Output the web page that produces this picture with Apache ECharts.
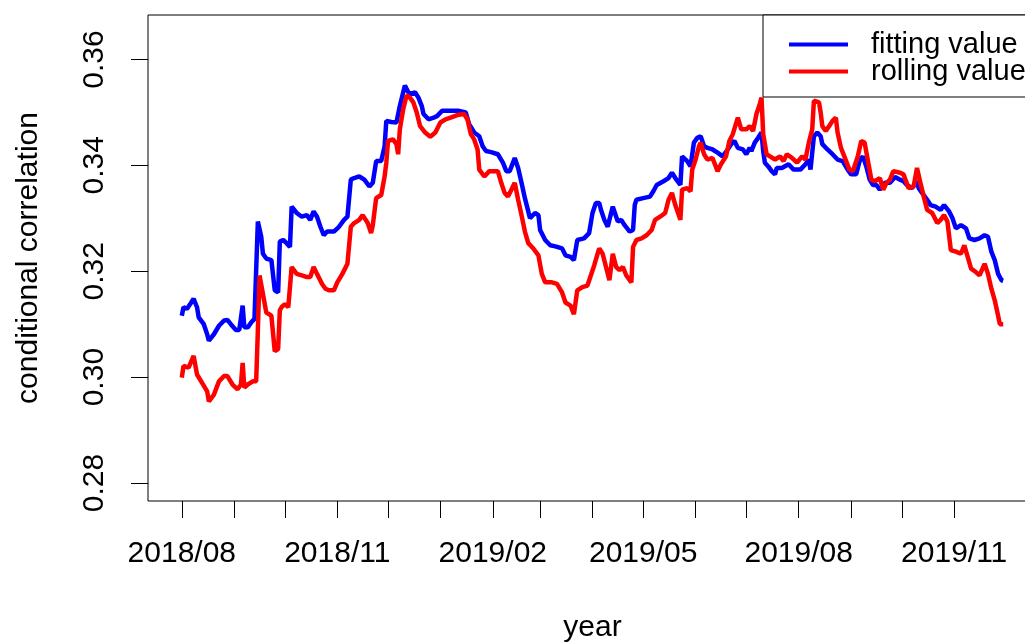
<!DOCTYPE html>
<html><head><meta charset="utf-8">
<script src="https://cdn.jsdelivr.net/npm/echarts@6/dist/echarts.min.js"></script>
<style>html,body{margin:0;padding:0;background:#fff}#chart{width:1025px;height:644px}</style>
</head><body><div id="chart"></div>
<script>
const fittingDates = [
'2018-08-01','2018-08-02','2018-08-04','2018-08-06','2018-08-08','2018-08-10','2018-08-11','2018-08-14','2018-08-16','2018-08-17',
'2018-08-20','2018-08-23','2018-08-26','2018-08-28','2018-08-30','2018-09-02','2018-09-04','2018-09-06','2018-09-07','2018-09-09',
'2018-09-11','2018-09-13','2018-09-14','2018-09-15','2018-09-17','2018-09-18','2018-09-20','2018-09-23','2018-09-25','2018-09-27',
'2018-09-28','2018-09-30','2018-10-02','2018-10-04','2018-10-05','2018-10-08','2018-10-11','2018-10-14','2018-10-16','2018-10-18',
'2018-10-20','2018-10-22','2018-10-24','2018-10-26','2018-10-30','2018-11-02','2018-11-05','2018-11-07','2018-11-09','2018-11-11',
'2018-11-14','2018-11-17','2018-11-20','2018-11-22','2018-11-24','2018-11-27','2018-11-29','2018-11-30','2018-12-03','2018-12-06',
'2018-12-08','2018-12-10','2018-12-11','2018-12-13','2018-12-15','2018-12-17','2018-12-19','2018-12-21','2018-12-22','2018-12-25',
'2018-12-28','2018-12-30','2019-01-02','2019-01-07','2019-01-12','2019-01-16','2019-01-18','2019-01-21','2019-01-24','2019-01-26',
'2019-01-28','2019-01-31','2019-02-04','2019-02-07','2019-02-09','2019-02-11','2019-02-14','2019-02-16','2019-02-18','2019-02-20',
'2019-02-22','2019-02-23','2019-02-26','2019-02-28','2019-03-01','2019-03-04','2019-03-07','2019-03-10','2019-03-14','2019-03-16',
'2019-03-19','2019-03-21','2019-03-23','2019-03-27','2019-03-30','2019-04-01','2019-04-03','2019-04-05','2019-04-06','2019-04-08',
'2019-04-10','2019-04-11','2019-04-13','2019-04-15','2019-04-16','2019-04-18','2019-04-20','2019-04-23','2019-04-25','2019-04-26',
'2019-04-27','2019-05-01','2019-05-05','2019-05-07','2019-05-09','2019-05-13','2019-05-16','2019-05-18','2019-05-20','2019-05-23',
'2019-05-24','2019-05-27','2019-05-29','2019-05-31','2019-06-02','2019-06-04','2019-06-06','2019-06-08','2019-06-11','2019-06-14',
'2019-06-17','2019-06-20','2019-06-22','2019-06-24','2019-06-26','2019-06-29','2019-07-01','2019-07-03','2019-07-04','2019-07-06',
'2019-07-08','2019-07-10','2019-07-11','2019-07-12','2019-07-14','2019-07-16','2019-07-18','2019-07-19','2019-07-22','2019-07-26',
'2019-07-29','2019-08-02','2019-08-05','2019-08-07','2019-08-08','2019-08-10','2019-08-12','2019-08-14','2019-08-15','2019-08-18',
'2019-08-21','2019-08-24','2019-08-27','2019-08-30','2019-09-01','2019-09-04','2019-09-06','2019-09-08','2019-09-10','2019-09-12',
'2019-09-14','2019-09-16','2019-09-18','2019-09-21','2019-09-24','2019-09-27','2019-09-30','2019-10-02','2019-10-04','2019-10-07',
'2019-10-10','2019-10-11','2019-10-13','2019-10-16','2019-10-18','2019-10-21','2019-10-24','2019-10-26','2019-10-29','2019-10-31',
'2019-11-02','2019-11-05','2019-11-08','2019-11-10','2019-11-13','2019-11-16','2019-11-19','2019-11-21','2019-11-23','2019-11-25',
'2019-11-27','2019-11-29','2019-11-30'];
const fittingValues = [
0.3116,0.3132,0.3129,0.3138,0.3148,0.3132,0.3113,0.3100,0.3081,0.3069,
0.3081,0.3097,0.3107,0.3108,0.3100,0.3089,0.3089,0.3135,0.3094,0.3094,
0.3103,0.3110,0.3202,0.3294,0.3265,0.3233,0.3224,0.3221,0.3164,0.3160,
0.3256,0.3259,0.3253,0.3246,0.3322,0.3310,0.3303,0.3306,0.3297,0.3313,
0.3303,0.3284,0.3268,0.3275,0.3275,0.3284,0.3297,0.3303,0.3373,0.3376,
0.3379,0.3373,0.3360,0.3367,0.3408,0.3408,0.3436,0.3484,0.3482,0.3481,
0.3512,0.3538,0.3551,0.3538,0.3535,0.3538,0.3528,0.3512,0.3497,0.3487,
0.3490,0.3493,0.3503,0.3503,0.3503,0.3500,0.3478,0.3462,0.3455,0.3436,
0.3427,0.3425,0.3421,0.3405,0.3389,0.3389,0.3414,0.3395,0.3367,0.3338,
0.3313,0.3300,0.3310,0.3306,0.3278,0.3259,0.3249,0.3247,0.3243,0.3230,
0.3227,0.3221,0.3259,0.3262,0.3272,0.3310,0.3329,0.3329,0.3316,0.3297,
0.3284,0.3297,0.3322,0.3303,0.3294,0.3297,0.3287,0.3275,0.3278,0.3325,
0.3335,0.3338,0.3341,0.3351,0.3363,0.3370,0.3376,0.3386,0.3376,0.3363,
0.3417,0.3408,0.3398,0.3443,0.3452,0.3455,0.3436,0.3433,0.3430,0.3424,
0.3417,0.3430,0.3440,0.3446,0.3433,0.3430,0.3421,0.3433,0.3427,0.3443,
0.3452,0.3462,0.3427,0.3405,0.3398,0.3389,0.3383,0.3395,0.3395,0.3402,
0.3392,0.3392,0.3402,0.3411,0.3392,0.3455,0.3462,0.3455,0.3440,0.3430,
0.3421,0.3411,0.3408,0.3392,0.3383,0.3383,0.3408,0.3417,0.3398,0.3373,
0.3363,0.3363,0.3354,0.3367,0.3367,0.3378,0.3373,0.3370,0.3363,0.3357,
0.3370,0.3357,0.3348,0.3335,0.3325,0.3322,0.3316,0.3325,0.3313,0.3300,
0.3281,0.3287,0.3281,0.3262,0.3259,0.3262,0.3268,0.3265,0.3237,0.3221,
0.3195,0.3183,0.3182];
const rollingDates = [
'2018-08-01','2018-08-02','2018-08-05','2018-08-08','2018-08-10','2018-08-13','2018-08-16','2018-08-17','2018-08-20','2018-08-23',
'2018-08-26','2018-08-28','2018-08-31','2018-09-03','2018-09-05','2018-09-06','2018-09-07','2018-09-09','2018-09-12','2018-09-14',
'2018-09-15','2018-09-16','2018-09-18','2018-09-20','2018-09-23','2018-09-25','2018-09-27','2018-09-28','2018-09-29','2018-10-01',
'2018-10-03','2018-10-05','2018-10-08','2018-10-11','2018-10-14','2018-10-16','2018-10-18','2018-10-20','2018-10-23','2018-10-25',
'2018-10-27','2018-10-30','2018-11-01','2018-11-04','2018-11-07','2018-11-09','2018-11-11','2018-11-14','2018-11-16','2018-11-19',
'2018-11-21','2018-11-22','2018-11-24','2018-11-27','2018-11-29','2018-11-30','2018-12-01','2018-12-04','2018-12-06','2018-12-07',
'2018-12-08','2018-12-10','2018-12-12','2018-12-14','2018-12-16','2018-12-18','2018-12-20','2018-12-23','2018-12-26','2018-12-29',
'2019-01-01','2019-01-04','2019-01-07','2019-01-11','2019-01-15','2019-01-17','2019-01-19','2019-01-21','2019-01-23','2019-01-24',
'2019-01-27','2019-01-30','2019-02-04','2019-02-06','2019-02-08','2019-02-10','2019-02-12','2019-02-14','2019-02-16','2019-02-18',
'2019-02-20','2019-02-22','2019-02-25','2019-02-28','2019-03-02','2019-03-04','2019-03-08','2019-03-11','2019-03-14','2019-03-16',
'2019-03-19','2019-03-21','2019-03-23','2019-03-26','2019-03-29','2019-03-31','2019-04-02','2019-04-04','2019-04-05','2019-04-07',
'2019-04-09','2019-04-11','2019-04-13','2019-04-15','2019-04-17','2019-04-19','2019-04-21','2019-04-24','2019-04-25','2019-04-27',
'2019-04-30','2019-05-03','2019-05-06','2019-05-08','2019-05-11','2019-05-14','2019-05-16','2019-05-18','2019-05-20','2019-05-23',
'2019-05-24','2019-05-27','2019-05-29','2019-05-30','2019-06-01','2019-06-03','2019-06-04','2019-06-06','2019-06-08','2019-06-11',
'2019-06-14','2019-06-16','2019-06-19','2019-06-21','2019-06-23','2019-06-26','2019-06-28','2019-07-01','2019-07-03','2019-07-05',
'2019-07-07','2019-07-09','2019-07-10','2019-07-11','2019-07-13','2019-07-15','2019-07-18','2019-07-21','2019-07-23','2019-07-25',
'2019-07-28','2019-07-31','2019-08-03','2019-08-05','2019-08-07','2019-08-09','2019-08-10','2019-08-13','2019-08-14','2019-08-15',
'2019-08-17','2019-08-19','2019-08-21','2019-08-23','2019-08-24','2019-08-26','2019-08-28','2019-08-31','2019-09-02','2019-09-05',
'2019-09-07','2019-09-09','2019-09-11','2019-09-13','2019-09-15','2019-09-18','2019-09-20','2019-09-22','2019-09-24','2019-09-26',
'2019-09-30','2019-10-02','2019-10-05','2019-10-08','2019-10-10','2019-10-12','2019-10-14','2019-10-16','2019-10-19','2019-10-22',
'2019-10-24','2019-10-26','2019-10-28','2019-10-30','2019-11-02','2019-11-05','2019-11-07','2019-11-09','2019-11-11','2019-11-14',
'2019-11-16','2019-11-19','2019-11-21','2019-11-23','2019-11-25','2019-11-27','2019-11-28','2019-11-30'];
const rollingValues = [
0.2999,0.3021,0.3018,0.3040,0.3005,0.2989,0.2973,0.2954,0.2967,0.2992,
0.3002,0.3002,0.2986,0.2977,0.2986,0.3027,0.2980,0.2986,0.2992,0.2992,
0.3088,0.3192,0.3157,0.3122,0.3116,0.3049,0.3053,0.3126,0.3132,0.3138,
0.3132,0.3208,0.3195,0.3192,0.3189,0.3189,0.3208,0.3195,0.3176,0.3167,
0.3164,0.3164,0.3179,0.3195,0.3214,0.3284,0.3291,0.3297,0.3306,0.3291,
0.3272,0.3287,0.3338,0.3344,0.3379,0.3405,0.3446,0.3449,0.3440,0.3421,
0.3468,0.3506,0.3532,0.3528,0.3519,0.3500,0.3474,0.3462,0.3454,0.3462,
0.3481,0.3487,0.3490,0.3495,0.3497,0.3487,0.3459,0.3449,0.3430,0.3392,
0.3379,0.3389,0.3389,0.3367,0.3348,0.3341,0.3354,0.3367,0.3335,0.3306,
0.3275,0.3253,0.3243,0.3230,0.3195,0.3179,0.3179,0.3176,0.3160,0.3141,
0.3135,0.3119,0.3164,0.3170,0.3173,0.3192,0.3211,0.3233,0.3243,0.3233,
0.3208,0.3183,0.3233,0.3208,0.3202,0.3208,0.3192,0.3179,0.3246,0.3259,
0.3262,0.3268,0.3278,0.3297,0.3303,0.3310,0.3335,0.3348,0.3325,0.3297,
0.3354,0.3357,0.3351,0.3392,0.3411,0.3436,0.3443,0.3421,0.3411,0.3414,
0.3389,0.3402,0.3417,0.3446,0.3459,0.3490,0.3468,0.3468,0.3474,0.3465,
0.3497,0.3516,0.3528,0.3459,0.3421,0.3417,0.3411,0.3417,0.3408,0.3421,
0.3414,0.3405,0.3417,0.3411,0.3443,0.3468,0.3522,0.3519,0.3500,0.3474,
0.3465,0.3474,0.3484,0.3490,0.3462,0.3433,0.3417,0.3392,0.3389,0.3417,
0.3446,0.3443,0.3408,0.3373,0.3370,0.3376,0.3354,0.3367,0.3373,0.3389,
0.3386,0.3383,0.3357,0.3360,0.3395,0.3367,0.3341,0.3316,0.3310,0.3291,
0.3297,0.3306,0.3294,0.3240,0.3237,0.3233,0.3249,0.3227,0.3205,0.3198,
0.3192,0.3214,0.3195,0.3167,0.3145,0.3116,0.3100,0.3100];
const monthTicks = ['2018/08','2018/09','2018/10','2018/11','2018/12','2019/01','2019/02','2019/03',
  '2019/04','2019/05','2019/06','2019/07','2019/08','2019/09','2019/10','2019/11'];
const monthLabels = ['2018/08','2018/11','2019/02','2019/05','2019/08','2019/11'];
const yTicks = [0.28, 0.30, 0.32, 0.34, 0.36];
const seriesNames = ['fitting value', 'rolling value'];

function toTime(s) {
  const p = s.split(/[-\/]/).map(Number);
  return Date.UTC(p[0], p[1] - 1, p.length > 2 ? p[2] : 1);
}
function pad(n) { return (n < 10 ? '0' : '') + n; }
const FONT = "'Liberation Sans', Arial, sans-serif";

const chart = echarts.init(document.getElementById('chart'), null, { renderer: 'canvas' });
chart.setOption({
  animation: false,
  backgroundColor: '#ffffff',
  textStyle: { fontFamily: FONT, color: '#000' },
  grid: { left: 148, top: 15, right: -12, bottom: 143, outerBoundsMode: 'none', containLabel: false,
    show: true, borderColor: '#000', borderWidth: 1, backgroundColor: 'transparent' },
  legend: {
    data: seriesNames, orient: 'vertical', left: 763, top: 15, z: 10,
    padding: [15, 40, 11, 26], itemGap: -2, itemWidth: 59, itemHeight: 4, icon: 'rect',
    borderColor: '#000', borderWidth: 1, borderRadius: 0, backgroundColor: '#fff',
    textStyle: { fontFamily: FONT, fontSize: 29, color: '#000', lineHeight: 27, padding: [0, 0, 0, 18] }
  },
  xAxis: {
    type: 'value',
    min: toTime('2018-07-12'), max: toTime('2019-12-20'),
    name: 'year', nameLocation: 'middle', nameGap: 112,
    nameTextStyle: { fontFamily: FONT, fontSize: 30, color: '#000' },
    axisLine: { show: false },
    axisTick: { show: true, inside: false, length: 17, lineStyle: { color: '#000', width: 1 }, customValues: monthTicks.map(toTime) },
    axisLabel: { fontFamily: FONT, fontSize: 30, color: '#000', margin: 38, customValues: monthLabels.map(toTime),
      formatter: function (v) { const d = new Date(v); return d.getUTCFullYear() + '/' + pad(d.getUTCMonth() + 1); } },
    splitLine: { show: false }
  },
  yAxis: {
    type: 'value', min: 0.2766, max: 0.3684,
    name: 'conditional correlation', nameLocation: 'middle', nameRotate: 90, nameGap: 104,
    nameTextStyle: { fontFamily: FONT, fontSize: 30, color: '#000' },
    axisLine: { show: false },
    axisTick: { show: true, inside: false, length: 17, lineStyle: { color: '#000', width: 1 }, customValues: yTicks },
    axisLabel: { fontFamily: FONT, fontSize: 30, color: '#000', rotate: 90, margin: 38, customValues: yTicks,
      formatter: function (v) { return v.toFixed(2); } },
    splitLine: { show: false }
  },
  series: [
    { name: seriesNames[0], type: 'line', symbol: 'none', showSymbol: false,
      lineStyle: { color: '#0000ff', width: 4.5 }, itemStyle: { color: '#0000ff' },
      data: fittingDates.map((d, i) => [toTime(d), fittingValues[i]]) },
    { name: seriesNames[1], type: 'line', symbol: 'none', showSymbol: false,
      lineStyle: { color: '#ff0000', width: 4.5 }, itemStyle: { color: '#ff0000' },
      data: rollingDates.map((d, i) => [toTime(d), rollingValues[i]]) }
  ]
});
</script></body></html>
